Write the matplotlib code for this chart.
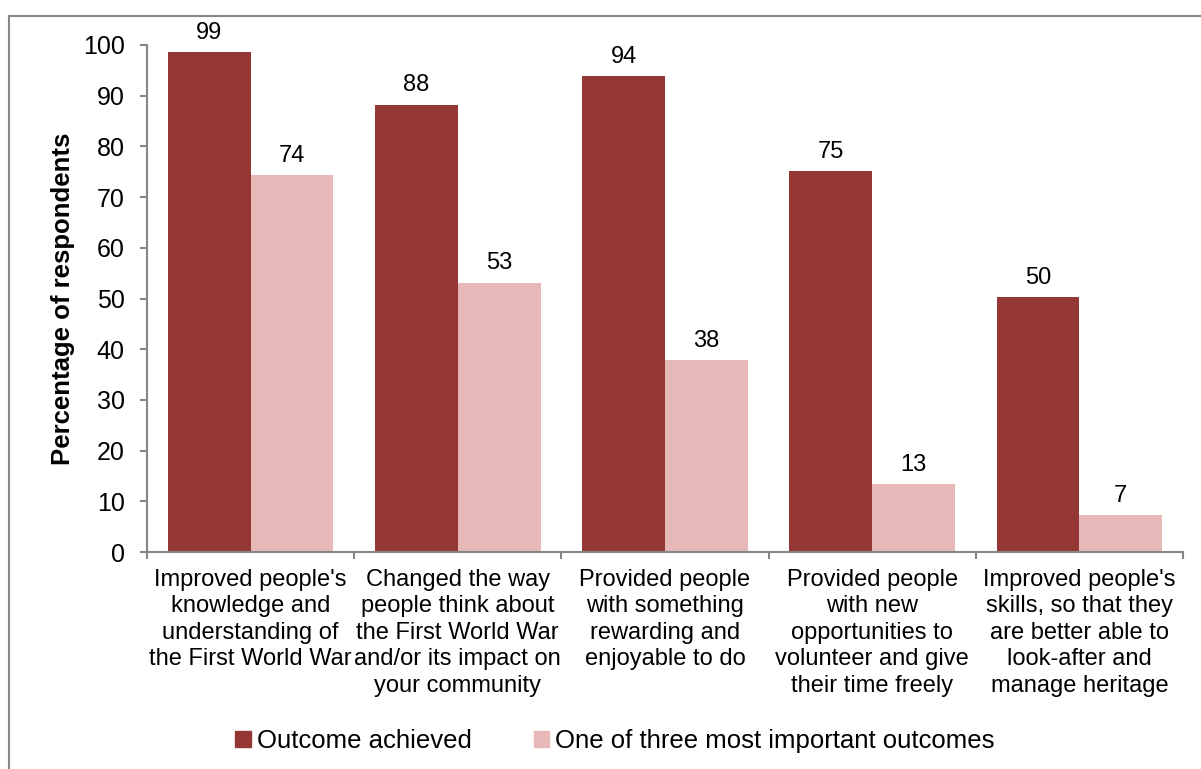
import matplotlib.pyplot as plt
import numpy as np
from matplotlib.patches import Patch, Rectangle

plt.rcParams['font.family'] = ['Liberation Sans', 'DejaVu Sans']

categories = [
    "Improved people's\nknowledge and\nunderstanding of\nthe First World War",
    "Changed the way\npeople think about\nthe First World War\nand/or its impact on\nyour community",
    "Provided people\nwith something\nrewarding and\nenjoyable to do",
    "Provided people\nwith new\nopportunities to\nvolunteer and give\ntheir time freely",
    "Improved people's\nskills, so that they\nare better able to\nlook-after and\nmanage heritage",
]
achieved = [98.6, 88.2, 93.8, 75.1, 50.3]
important = [74.3, 53.1, 37.9, 13.4, 7.3]
series_names = ["Outcome achieved", "One of three most important outcomes"]

dark = '#953735'
light = '#E6B9B8'
grey = '#868686'

fig = plt.figure(figsize=(12.01, 7.69), dpi=100)
# outer chart border (runs off the right and bottom edges)
fig.patches.append(Rectangle((9 / 1201, -0.1), 1.2, (769 - 16) / 769 + 0.1,
                             transform=fig.transFigure, fill=False,
                             edgecolor=grey, linewidth=1.5))

ax = fig.add_axes([147 / 1201, 217 / 769, (1183 - 147) / 1201, (552 - 45) / 769])

x = np.arange(len(categories))
w = 0.4
b1 = ax.bar(x - w / 2, achieved, w, color=dark, label=series_names[0])
b2 = ax.bar(x + w / 2, important, w, color=light, label=series_names[1])

for bars in (b1, b2):
    for r in bars:
        ax.annotate(f"{r.get_height():.0f}", (r.get_x() + r.get_width() / 2, r.get_height()),
                    xytext=(0, 6), textcoords='offset points', ha='center', va='bottom',
                    fontsize=17)

ax.set_xlim(-0.5, len(categories) - 0.5)
ax.set_ylim(0, 100)
ax.set_yticks(range(0, 101, 10))
ax.tick_params(axis='y', labelsize=18, length=5, color=grey, width=1.5, pad=11)
ax.set_xticks(x)
ax.set_xticklabels(categories, fontsize=17, linespacing=1.27)
ax.set_xticks(np.arange(-0.5, len(categories)), minor=True)
ax.tick_params(axis='x', which='major', length=0, pad=12)
ax.tick_params(axis='x', which='minor', length=5, color=grey, width=1.5)

for s in ['top', 'right']:
    ax.spines[s].set_visible(False)
for s in ['left', 'bottom']:
    ax.spines[s].set_color(grey)
    ax.spines[s].set_linewidth(1.5)

ax.set_ylabel("Percentage of respondents", fontsize=18.5, fontweight='bold', labelpad=6)

handles = [Patch(color=dark), Patch(color=light)]
fig.legend(handles, series_names, loc='center', bbox_to_anchor=(615 / 1201, 28 / 769),
           ncol=2, frameon=False, fontsize=18.5, handlelength=0.6, handleheight=0.6,
           handletextpad=0.25, columnspacing=2.4)

plt.savefig('out.png', dpi=100)
